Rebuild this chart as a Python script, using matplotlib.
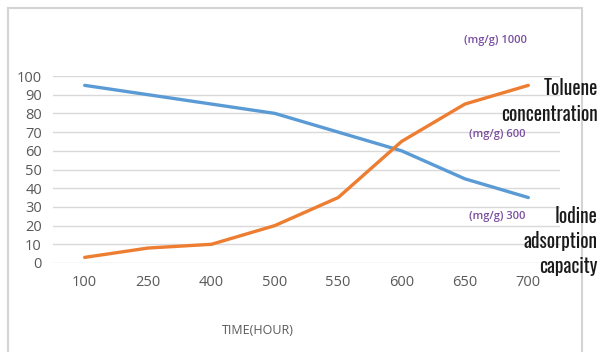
import matplotlib
matplotlib.use("Agg")
import matplotlib.pyplot as plt
from matplotlib.patches import Rectangle

# chart data
hours = ["100", "250", "400", "500", "550", "600", "650", "700"]
iodine = [95, 90, 85, 80, 70, 60, 45, 35]
toluene = [3, 8, 10, 20, 35, 65, 85, 95]
y_ticks = list(range(0, 101, 10))
mg_labels = ["(mg/g) 1000", "(mg/g) 600", "(mg/g) 300"]

W, H = 606, 352
fig = plt.figure(figsize=(W / 100, H / 100), dpi=100)
fig.patch.set_facecolor("white")
plt.rcParams["font.family"] = ["Open Sans", "DejaVu Sans"]

# outer chart frame
fig.add_artist(Rectangle((8 / W, -0.05), (582 - 8) / W, 1.05 - 8 / H,
                         transform=fig.transFigure, fill=False,
                         edgecolor="#d4d4d4", linewidth=1.5))

ax = fig.add_axes([53 / W, 1 - 263 / H, (560 - 53) / W, (263 - 76) / H])
x = range(len(hours))
ax.plot(x, iodine, color="#5b9bd5", linewidth=2.4, solid_capstyle="round")
ax.plot(x, toluene, color="#ed7d31", linewidth=2.4, solid_capstyle="round")

ax.set_xlim(-0.5, len(hours) - 0.5)
ax.set_ylim(0, 100)
ax.set_yticks(y_ticks)
ax.set_xticks(list(x))
ax.set_xticklabels(hours)
ax.grid(axis="y", color="#d9d9d9", linewidth=1)
ax.set_axisbelow(True)
for s in ax.spines.values():
    s.set_visible(False)
ax.tick_params(length=0, labelsize=10.5, colors="#595959")
ax.tick_params(axis="x", pad=9)
ax.tick_params(axis="y", pad=8)

fig.text(258 / W, 1 - 330 / H, "TIME(HOUR)", ha="center", va="center",
         fontsize=9, color="#595959")

purple = "#7b4fa0"
fig.text(495 / W, 1 - 40 / H, mg_labels[0], ha="center", va="center",
         fontsize=8, color=purple, fontweight="semibold")
fig.text(497 / W, 1 - 135 / H, mg_labels[1], ha="center", va="center",
         fontsize=8, color=purple, fontweight="semibold")
fig.text(497 / W, 1 - 216 / H, mg_labels[2], ha="center", va="center",
         fontsize=8, color=purple, fontweight="semibold")

nfont = ["Oswald", "Barlow Condensed", "DejaVu Sans"]
fig.text(598 / W, 1 - 101 / H, "Toluene\nconcentration", ha="right", va="center",
         fontsize=14, family=nfont, fontweight="medium", color="#1a1a1a",
         linespacing=1.3)
fig.text(598 / W, 1 - 241 / H, "Iodine\nadsorption\ncapacity", ha="right", va="center",
         fontsize=14, family=nfont, fontweight="medium", color="#1a1a1a",
         linespacing=1.3)

fig.savefig("out.png", dpi=100)
